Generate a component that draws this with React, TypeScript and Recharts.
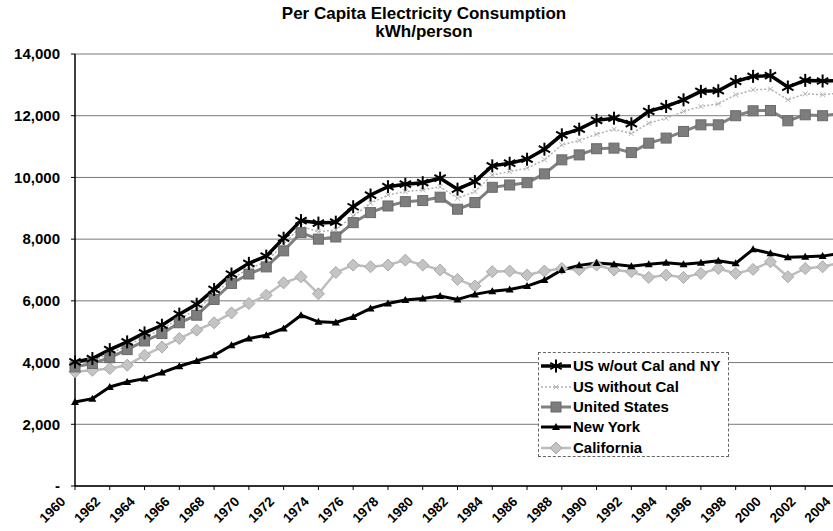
import { LineChart, Line, XAxis, YAxis, CartesianGrid } from 'recharts'

// Per capita electricity consumption, kWh/person, 1960-2004
const years = [
  '1960', '1961', '1962', '1963', '1964', '1965', '1966', '1967', '1968', '1969',
  '1970', '1971', '1972', '1973', '1974', '1975', '1976', '1977', '1978', '1979',
  '1980', '1981', '1982', '1983', '1984', '1985', '1986', '1987', '1988', '1989',
  '1990', '1991', '1992', '1993', '1994', '1995', '1996', '1997', '1998', '1999',
  '2000', '2001', '2002', '2003', '2004',
]

const usNoCalNY = [
  4020, 4130, 4420, 4670, 4960, 5210, 5570, 5890, 6370, 6870,
  7215, 7450, 8030, 8600, 8520, 8550, 9050, 9430, 9700, 9780,
  9830, 9975, 9620, 9865, 10375, 10460, 10590, 10915, 11380, 11565,
  11850, 11920, 11740, 12140, 12300, 12515, 12790, 12810, 13110, 13275,
  13300, 12930, 13145, 13125, 13145,
]

const usNoCal = [
  3950, 4050, 4290, 4545, 4830, 5075, 5430, 5710, 6200, 6720,
  7040, 7270, 7830, 8420, 8240, 8300, 8750, 9165, 9430, 9540,
  9595, 9700, 9325, 9540, 10080, 10190, 10300, 10570, 11055, 11195,
  11400, 11560, 11420, 11760, 11920, 12140, 12300, 12385, 12680, 12840,
  12865, 12515, 12710, 12680, 12735,
]

const unitedStates = [
  3860, 3970, 4160, 4420, 4700, 4940, 5290, 5535, 6045, 6565,
  6870, 7100, 7620, 8210, 8000, 8070, 8535, 8860, 9075, 9215,
  9250, 9360, 8970, 9185, 9680, 9755, 9830, 10115, 10570, 10730,
  10930, 10950, 10805, 11110, 11275, 11490, 11705, 11705, 12000, 12160,
  12170, 11835, 12030, 12000, 12060,
]

const newYork = [
  2720, 2830, 3210, 3370, 3480, 3675, 3880, 4050, 4235, 4560,
  4780, 4885, 5105, 5535, 5320, 5300, 5480, 5755, 5915, 6025,
  6080, 6155, 6045, 6210, 6315, 6370, 6480, 6675, 7000, 7150,
  7225, 7190, 7125, 7190, 7235, 7190, 7235, 7300, 7215, 7670,
  7540, 7410, 7430, 7450, 7540,
]

const california = [
  3700, 3750, 3805, 3915, 4235, 4505, 4780, 5050, 5290, 5610,
  5915, 6185, 6585, 6780, 6230, 6920, 7160, 7105, 7160, 7320,
  7160, 7000, 6695, 6480, 6945, 6965, 6835, 6965, 7050, 7010,
  7160, 7000, 6945, 6760, 6835, 6760, 6890, 7050, 6890, 7020,
  7265, 6780, 7050, 7105, 7235,
]

const yTicks = [0, 2000, 4000, 6000, 8000, 10000, 12000, 14000]

const data = years.map((year, i) => ({
  year,
  usNoCalNY: usNoCalNY[i],
  usNoCal: usNoCal[i],
  unitedStates: unitedStates[i],
  newYork: newYork[i],
  california: california[i],
}))

const FONT = '"Liberation Sans", Arial, Helvetica, sans-serif'

// marker shapes, roughly like the Excel ones
function marker(kind: string, cx: number, cy: number, key?: any) {
  if (cx == null || cy == null) return <g key={key} />
  switch (kind) {
    case 'asterisk': {
      const r = 6.5
      const d = r * 0.87
      return (
        <g key={key} stroke="#000" strokeWidth={2}>
          <line x1={cx} y1={cy - r} x2={cx} y2={cy + r} />
          <line x1={cx - d} y1={cy - r / 2} x2={cx + d} y2={cy + r / 2} />
          <line x1={cx - d} y1={cy + r / 2} x2={cx + d} y2={cy - r / 2} />
        </g>
      )
    }
    case 'cross': {
      const r = 2.5
      return (
        <g key={key} stroke="#b5b5b5" strokeWidth={1}>
          <line x1={cx - r} y1={cy - r} x2={cx + r} y2={cy + r} />
          <line x1={cx - r} y1={cy + r} x2={cx + r} y2={cy - r} />
        </g>
      )
    }
    case 'square':
      return <rect key={key} x={cx - 5} y={cy - 5} width={10} height={10} fill="#7d7d7d" stroke="#6a6a6a" strokeWidth={1} />
    case 'triangle':
      return <path key={key} d={`M${cx},${cy - 4} L${cx + 4},${cy + 3} L${cx - 4},${cy + 3} Z`} fill="#000" />
    case 'diamond':
      return <path key={key} d={`M${cx},${cy - 6} L${cx + 6},${cy} L${cx},${cy + 6} L${cx - 6},${cy} Z`} fill="#c4c4c4" stroke="#a8a8a8" strokeWidth={1} />
    default:
      return <g key={key} />
  }
}

const SERIES = [
  { key: 'usNoCalNY', name: 'US w/out Cal and NY', color: '#000000', width: 3.5, dash: undefined, marker: 'asterisk' },
  { key: 'usNoCal', name: 'US without Cal', color: '#b0b0b0', width: 1.5, dash: '2 2', marker: 'cross' },
  { key: 'unitedStates', name: 'United States', color: '#808080', width: 3, dash: undefined, marker: 'square' },
  { key: 'newYork', name: 'New York', color: '#000000', width: 3, dash: undefined, marker: 'triangle' },
  { key: 'california', name: 'California', color: '#bdbdbd', width: 2.5, dash: undefined, marker: 'diamond' },
]

// draw order: light series first, black asterisk on top
const DRAW_ORDER = ['california', 'usNoCal', 'newYork', 'unitedStates', 'usNoCalNY']

function XTick({ x, y, payload }: any) {
  const px = x - 12
  const py = y + 7
  return (
    <text
      x={px}
      y={py}
      transform={`rotate(-45 ${px} ${py})`}
      textAnchor="end"
      dy="0.35em"
      fontFamily={FONT}
      fontWeight="bold"
      fontSize={13.5}
      fill="#000"
    >
      {payload.value}
    </text>
  )
}

function LegendBox() {
  return (
    <div
      style={{
        position: 'absolute',
        left: 538,
        top: 352,
        width: 191,
        height: 105,
        background: '#fff',
        border: '1px dashed #666',
        fontFamily: FONT,
        fontWeight: 'bold',
        fontSize: 15,
        paddingTop: 3,
        boxSizing: 'border-box',
      }}
    >
      {SERIES.map((s) => (
        <div key={s.key} style={{ display: 'flex', alignItems: 'center', height: 20.4 }}>
          <svg width={34} height={16} style={{ flex: 'none' }}>
            <line x1={2} y1={8} x2={32} y2={8} stroke={s.color} strokeWidth={s.width} strokeDasharray={s.dash} />
            {marker(s.marker, 17, 8)}
          </svg>
          <span style={{ lineHeight: '16px' }}>{s.name}</span>
        </div>
      ))}
    </div>
  )
}

export default function App() {
  return (
    <div style={{ position: 'absolute', left: 0, top: 0, width: 833, height: 531, overflow: 'hidden', background: '#fff' }}>
      <div
        style={{
          position: 'absolute',
          left: 0,
          top: 5,
          width: 848,
          textAlign: 'center',
          fontFamily: FONT,
          fontWeight: 'bold',
          fontSize: 17,
          lineHeight: '18px',
        }}
      >
        <div>Per Capita Electricity Consumption</div>
        <div>kWh/person</div>
      </div>
      <LineChart
        width={850}
        height={531}
        data={data}
        margin={{ top: 54, right: 10, bottom: 0, left: 0 }}
        style={{ position: 'absolute', left: 0, top: 0 }}
      >
        <CartesianGrid vertical={false} stroke="#7a7a7a" strokeWidth={1} />
        <XAxis
          dataKey="year"
          interval={1}
          height={45}
          tickSize={4}
          tickLine={{ stroke: '#000' }}
          axisLine={{ stroke: '#000', strokeWidth: 1.5 }}
          tick={<XTick />}
        />
        <YAxis
          domain={[0, 14000]}
          ticks={yTicks}
          width={75}
          tickSize={4}
          tickMargin={11}
          tickLine={{ stroke: '#000' }}
          axisLine={{ stroke: '#000', strokeWidth: 1.5 }}
          tickFormatter={(v: number) => (v === 0 ? '-' : v.toLocaleString('en-US'))}
          tick={{ fontFamily: FONT, fontWeight: 'bold', fontSize: 15, fill: '#000' }}
        />
        {DRAW_ORDER.map((k) => {
          const s = SERIES.find((x) => x.key === k)!
          return (
            <Line
              key={s.key}
              type="linear"
              dataKey={s.key}
              name={s.name}
              stroke={s.color}
              strokeWidth={s.width}
              strokeDasharray={s.dash}
              isAnimationActive={false}
              dot={(p: any) => marker(s.marker, p.cx, p.cy, `${s.key}-${p.index}`)}
              activeDot={false}
            />
          )
        })}
      </LineChart>
      <LegendBox />
    </div>
  )
}
